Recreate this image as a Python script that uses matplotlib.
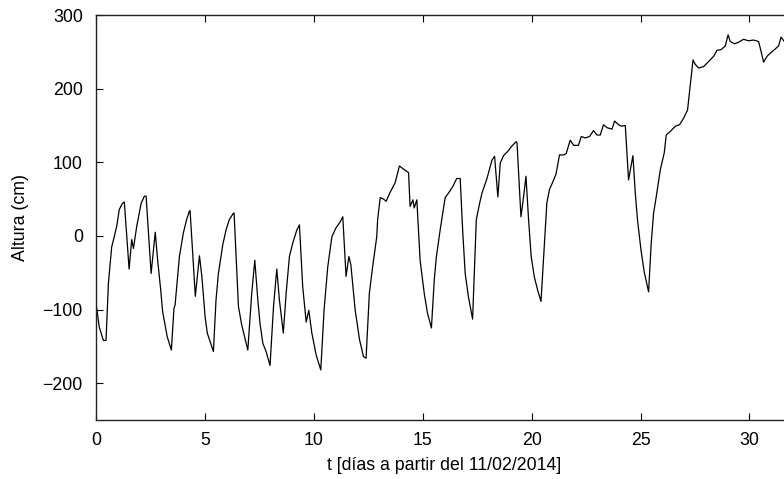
import matplotlib
matplotlib.use("Agg")
import matplotlib.pyplot as plt

# Water level series: time (days) and height (cm)
t_days = [0.00, 0.15, 0.34, 0.46, 0.57, 0.72, 0.83, 0.95, 1.07, 1.21, 1.30, 1.52, 1.64, 1.72,
          1.87, 2.07, 2.22, 2.30, 2.53, 2.72, 2.83, 2.97, 3.06, 3.27, 3.46, 3.58, 3.63, 3.83,
          4.01, 4.16, 4.29, 4.32, 4.56, 4.75, 4.86, 5.01, 5.11, 5.39, 5.51, 5.62, 5.82, 5.97,
          6.12, 6.31, 6.34, 6.54, 6.69, 6.97, 7.15, 7.29, 7.43, 7.53, 7.66, 7.81, 7.99, 8.15,
          8.30, 8.42, 8.60, 8.73, 8.88, 9.03, 9.22, 9.34, 9.49, 9.65, 9.77, 9.91, 10.11, 10.32,
          10.47, 10.64, 10.83, 11.02, 11.21, 11.33, 11.48, 11.61, 11.70, 11.90, 12.10, 12.28,
          12.40, 12.55, 12.70, 12.89, 12.93, 13.05, 13.20, 13.32, 13.50, 13.73, 13.93, 14.15,
          14.35, 14.42, 14.55, 14.61, 14.73, 14.88, 15.07, 15.22, 15.40, 15.53, 15.62, 15.80,
          16.03, 16.18, 16.38, 16.56, 16.72, 16.84, 16.95, 17.10, 17.29, 17.46, 17.61, 17.72,
          17.95, 18.18, 18.30, 18.45, 18.56, 18.71, 18.91, 19.09, 19.29, 19.33, 19.51, 19.63,
          19.74, 19.86, 19.98, 20.12, 20.27, 20.43, 20.58, 20.70, 20.82, 21.01, 21.12, 21.28,
          21.47, 21.59, 21.77, 21.93, 22.15, 22.28, 22.46, 22.66, 22.84, 23.00, 23.15, 23.30,
          23.46, 23.69, 23.81, 23.99, 24.12, 24.30, 24.45, 24.65, 24.76, 24.86, 25.02, 25.17,
          25.37, 25.49, 25.60, 25.72, 25.91, 26.09, 26.18, 26.37, 26.60, 26.79, 26.98, 27.16,
          27.25, 27.41, 27.51, 27.67, 27.90, 28.13, 28.36, 28.51, 28.70, 28.89, 29.02, 29.12,
          29.32, 29.50, 29.73, 29.96, 30.19, 30.42, 30.53, 30.65, 30.81, 30.99, 31.19, 31.34,
          31.45, 31.60]
height_cm = [-91, -124, -142, -142, -64, -15, -2, 13, 36, 44, 46, -45, -5, -17,
             13, 44, 54, 54, -51, 5, -33, -73, -103, -137, -155, -98, -94, -28,
             4, 22, 34, 34, -82, -27, -55, -110, -132, -157, -87, -51, -12, 8,
             22, 31, 31, -96, -121, -155, -78, -33, -87, -119, -146, -157, -176, -96,
             -45, -87, -132, -78, -28, -10, 8, 15, -69, -117, -101, -132, -162, -182,
             -101, -42, -1, 11, 19, 26, -55, -28, -39, -101, -141, -164,
             -166, -78, -42, -1, 22, 52, 50, 47, 59, 72, 95, 90,
             86, 40, 49, 38, 49, -33, -78, -105, -125, -60, -30, 8,
             52, 58, 67, 78, 78, 4, -51, -83, -113, 22, 44, 58,
             78, 103, 108, 53, 99, 109, 115, 122, 128, 126, 26, 53,
             81, 22, -28, -55, -73, -89, -15, 45, 63, 76, 84, 110,
             110, 112, 130, 123, 123, 135, 133, 135, 143, 137, 137, 151,
             147, 145, 156, 151, 149, 150, 76, 109, 58, 22, -19, -49,
             -76, -10, 31, 53, 90, 113, 137, 142, 149, 151, 160, 171,
             196, 239, 233, 228, 230, 237, 244, 252, 253, 258, 273, 264,
             261, 263, 267, 265, 266, 264, 251, 236, 244, 249, 254, 258,
             270, 264]

x_ticks = [0, 5, 10, 15, 20, 25, 30]
y_ticks = [-200, -100, 0, 100, 200, 300]

plt.rcParams['font.family'] = ['Liberation Sans', 'DejaVu Sans']
plt.rcParams['axes.unicode_minus'] = True

fs = 12.8
fig = plt.figure(figsize=(7.84, 4.79), dpi=100)
ax = fig.add_axes([96 / 784, 59 / 479, 697 / 784, 405 / 479])

ax.plot(t_days, height_cm, color='black', linewidth=0.9)

ax.set_xlim(0, 32)
ax.set_ylim(-250, 300)
ax.set_xticks(x_ticks)
ax.set_yticks(y_ticks)
ax.tick_params(direction='in', length=5, width=0.8, labelsize=fs,
               top=True, right=True, colors='black')
ax.tick_params(axis='y', pad=9.5)
ax.tick_params(axis='x', pad=8.5)
for s in ax.spines.values():
    s.set_linewidth(1.0)
    s.set_color('#222222')

ax.set_xlabel('t [días a partir del 11/02/2014]', fontsize=fs, labelpad=6)
ax.set_ylabel('Altura (cm)', fontsize=fs, labelpad=10)

fig.savefig('out.png', dpi=100)
